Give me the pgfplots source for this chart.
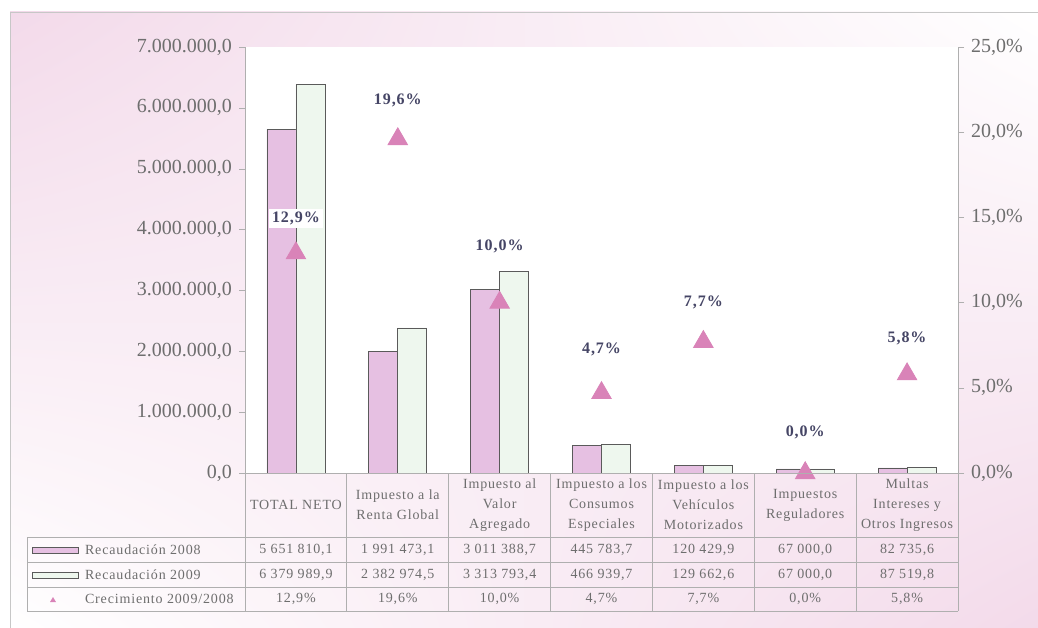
\documentclass[border=0pt]{standalone}
\usepackage{pgfplots}
\pgfplotsset{compat=1.18}
\usetikzlibrary{shadings}
\usepackage{fontspec}
\setmainfont{Liberation Serif}
\newfontfamily\spaced[LetterSpace=6]{Liberation Serif}

\definecolor{bar08}{HTML}{E6C0E2}
\definecolor{bar09}{HTML}{EEF7EE}
\definecolor{edge}{HTML}{5A5A5A}
\definecolor{tri}{HTML}{D983B8}
\definecolor{tickc}{HTML}{6E6E6E}
\definecolor{lab}{HTML}{454565}
\definecolor{bgpink}{HTML}{F3DAEA}
\definecolor{rule}{HTML}{AFAFAF}

% recaudacion por impuesto, 2008 y 2009, crecimiento en % y desplazamiento de la etiqueta (pt)
\pgfplotstableread{
x r2008 r2009 g dy
0 5651810.1 6379989.9 12.9 17.5
1 1991473.1 2382974.5 19.6 19.5
2 3011388.7 3313793.4 10.0 28
3 445783.7 466939.7 4.7 21.5
4 120429.9 129662.6 7.7 19.5
5 67000.0 67000.0 0.0 20.5
6 82735.6 87519.8 5.8 18
}\data

\begin{document}
\begin{tikzpicture}
\begin{scope}[x=0.5pt,y=0.5pt]
  \useasboundingbox (0,0) rectangle (1038,627);
  \fill[white] (0,0) rectangle (1038,627);
  \shade[upper left=bgpink, upper right=white, lower left=white, lower right=bgpink] (10,-5) rectangle (1038,615);
  \draw[rule!70] (10,-5) -- (10,615) -- (1045,615);
\end{scope}

\pgfplotsset{
  common/.style={
    at={(122.5pt,77pt)}, anchor=south west,
    scale only axis, width=356.5pt, height=213pt,
    xmin=-0.5, xmax=6.5,
    axis x line=none,
    tick align=outside, major tick length=3pt,
    axis line style={rule},
    tick style={rule},
    /pgf/number format/assume math mode=true,
    yticklabel style={font=\fontsize{10}{12}\selectfont, text=tickc},
  }
}

\begin{axis}[common,
  axis background/.style={fill=white},
  ymin=0, ymax=7000000, ytick distance=1000000,
  axis y line*=left,
  scaled y ticks=false,
  yticklabel style={/pgf/number format/.cd, fixed, fixed zerofill, precision=1, use comma, 1000 sep={.}},
  ybar=0pt, bar width=14.5pt,
]
\addplot[draw=edge, fill=bar08] table[x=x,y=r2008]{\data};
\addplot[draw=edge, fill=bar09] table[x=x,y=r2009]{\data};
\end{axis}

\begin{axis}[common,
  ymin=0, ymax=25, ytick={0,5,...,25},
  axis y line*=right,
  yticklabel={\pgfmathprintnumber[fixed,fixed zerofill,precision=1,use comma]{\tick}\%},
  clip=false,
  point meta=y,
  visualization depends on={\thisrow{dy} \as \dy},
  nodes near coords={\pgfmathprintnumber[fixed,fixed zerofill,precision=1,use comma]{\pgfplotspointmeta}\%},
  every node near coord/.append style={anchor=center, yshift=\dy pt, fill=white, inner sep=1.5pt,
    font=\spaced\fontsize{8}{10}\selectfont\bfseries, text=lab},
]
\addplot[only marks, mark=triangle*, mark size=5.6pt, mark options={fill=tri, draw=tri}] table[x=x,y=g]{\data};
\end{axis}

\begin{scope}[x=0.5pt,y=0.5pt, every node/.style={text=tickc, font=\spaced\fontsize{7}{10}\selectfont}]
  % table rules
  \draw[rule] (245,154) -- (958,154);
  \foreach \yy in {90,65,40,16} \draw[rule] (27,\yy) -- (958,\yy);
  \draw[rule] (27,90) -- (27,16);
  \foreach \k in {0,...,7} \draw[rule] (245+101.857*\k,154) -- (245+101.857*\k,16);
  % category names
  \foreach \k/\t in {0/{TOTAL NETO},
      1/{Impuesto a la\\Renta Global},
      2/{Impuesto al\\Valor\\Agregado},
      3/{Impuesto a los\\Consumos\\Especiales},
      4/{Impuesto a los\\Vehículos\\Motorizados},
      5/{Impuestos\\Reguladores},
      6/{Multas\\Intereses y\\Otros Ingresos}}
    \node[align=center] at (245+101.857*\k+50.93,122) {\t};
  % values
  \foreach \k/\a/\b/\c in {0/{5 651 810,1}/{6 379 989,9}/{12,9\%},
      1/{1 991 473,1}/{2 382 974,5}/{19,6\%},
      2/{3 011 388,7}/{3 313 793,4}/{10,0\%},
      3/{445 783,7}/{466 939,7}/{4,7\%},
      4/{120 429,9}/{129 662,6}/{7,7\%},
      5/{67 000,0}/{67 000,0}/{0,0\%},
      6/{82 735,6}/{87 519,8}/{5,8\%}}
  {
    \node at (245+101.857*\k+50.93,77.5) {\a};
    \node at (245+101.857*\k+50.93,52.5) {\b};
    \node at (245+101.857*\k+50.93,28) {\c};
  }
  % row labels with keys
  \draw[edge, fill=bar08] (32,74) rectangle (78,80);
  \draw[edge, fill=bar09] (32,49) rectangle (78,55);
  \fill[tri] (50,25) -- (56,25) -- (53,30) -- cycle;
  \node[anchor=west] at (78,77.5) {Recaudación 2008};
  \node[anchor=west] at (78,52.5) {Recaudación 2009};
  \node[anchor=west] at (78,28) {Crecimiento 2009/2008};
\end{scope}
\end{tikzpicture}
\end{document}
